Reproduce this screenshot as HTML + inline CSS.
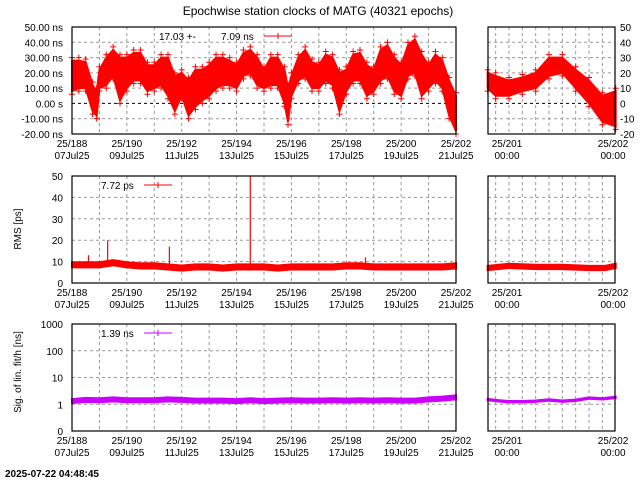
<!DOCTYPE html>
<html><head><meta charset="utf-8"><style>
body{margin:0;background:#fff;}
svg{display:block;font-family:"Liberation Sans",sans-serif;font-size:10px;}
</style></head><body>
<svg id="c" width="640" height="480" viewBox="0 0 640 480">
<text x="318" y="15" text-anchor="middle" font-size="12">Epochwise  station clocks of MATG (40321 epochs)</text>
<text x="5" y="477" font-weight="bold" font-size="10">2025-07-22 04:48:45</text>
<text transform="translate(21,229) rotate(-90)" text-anchor="middle">RMS [ps]</text>
<text transform="translate(21,372) rotate(-90)" text-anchor="middle">Sig. of lin. fit/h [ns]</text>
<text x="159" y="40">17.03 +-</text>
<text x="221" y="40">7.09 ns</text>
<text x="101" y="189">7.72 ps</text>
<text x="101" y="337">1.39 ns</text>
</svg>
<script>
// ---- data ----
const clkDays=[188,188.25,188.5,188.75,188.9,189,189.25,189.5,189.75,190,190.25,190.5,190.75,191,191.25,191.5,191.75,192,192.25,192.5,192.75,193,193.25,193.5,193.75,194,194.25,194.5,194.75,195,195.25,195.5,195.75,195.875,196,196.25,196.5,196.75,197,197.25,197.5,197.75,198,198.25,198.5,198.75,199,199.25,199.5,199.75,200,200.25,200.5,200.75,201,201.25,201.5,201.75,202];
const clkHigh=[28,28,27,12,8,22,30,35,30,30,33,33,25,25,30,30,18,20,15,22,22,25,30,30,28,25,33,35,30,22,30,30,22,10,18,30,35,27,25,32,30,20,22,32,33,25,22,35,38,30,25,38,42,32,25,32,28,15,5];
const clkLow=[8,10,10,-5,-8,10,12,18,2,10,15,15,8,10,12,5,-5,5,-8,-2,2,5,10,12,12,10,18,20,12,10,12,12,0,-12,5,15,18,10,10,15,12,-5,8,15,15,5,8,15,18,8,5,18,20,5,10,15,10,-8,-18];
const zDays=[200.8,200.875,201,201.125,201.25,201.375,201.5,201.625,201.75,201.875,202];
const zHigh=[20,18,15,17,20,30,30,22,15,5,8];
const zLow=[10,5,5,8,10,18,20,10,0,-12,-15];
const rmsDays=[188,188.5,189,189.5,190,190.5,191,191.5,192,192.5,193,193.5,194,194.5,195,195.5,196,196.5,197,197.5,198,198.5,199,199.5,200,200.5,201,201.5,202];
const rmsVals=[8.5,8.5,8.5,9.5,8.5,8,8,7.5,7,7.5,7.5,7,7.5,7.5,7.5,7,7.5,7.5,7.5,7.5,8,8,7.5,7.5,7.5,7.5,7.5,7.5,8];
const rmsSpikeDays=[188.6,189.3,191.55,194.5,198.7];
const rmsSpikeVals=[13,20,17,50,12];
const rzDays=[200.8,201,201.25,201.5,201.75,201.9,202];
const rzVals=[7,8,7.5,7.5,7,7,8];
const sigDays=[188,188.5,189,189.5,190,190.5,191,191.5,192,192.5,193,193.5,194,194.5,195,195.5,196,196.5,197,197.5,198,198.5,199,199.5,200,200.5,201,201.5,202];
const sigVals=[1.3,1.45,1.4,1.5,1.4,1.4,1.4,1.5,1.45,1.35,1.35,1.35,1.3,1.4,1.3,1.35,1.4,1.35,1.35,1.4,1.35,1.4,1.35,1.4,1.35,1.35,1.5,1.6,1.8];
const szDays=[200.8,200.9,201,201.125,201.25,201.375,201.5,201.625,201.75,201.875,202];
const szVals=[1.5,1.35,1.25,1.25,1.3,1.45,1.3,1.4,1.7,1.6,1.8];
const mainTicks=[188,190,192,194,196,198,200,202];
const mainDates=["07Jul25","09Jul25","11Jul25","13Jul25","15Jul25","17Jul25","19Jul25","21Jul25"];
const clkTicks=[50,40,30,20,10,0,-10,-20];
const clkTickLabels=["50.00 ns","40.00 ns","30.00 ns","20.00 ns","10.00 ns","0.00  s","-10.00 ns","-20.00 ns"];
const rmsTicks=[0,10,20,30,40,50];
const sigTicks=[0.1,1,10,100,1000];
const sigTickLabels=["0","1","10","100","1000"];
// ---- scales ----
const S='http://www.w3.org/2000/svg',svg=document.getElementById('c');
const xM=d=>72+(d-188)*384/14, xR=d=>509+(d-201)*106.7;
const yT=v=>27+(50-v)*107/70, yMd=v=>176+(50-v)*107/50;
const yB=v=>431-(Math.log10(v)+1)*26.75;
function el(t,a,p){const e=document.createElementNS(S,t);for(const k in a)e.setAttribute(k,a[k]);(p||svg).appendChild(e);return e;}
function panel(name){
 const g=el('g',{});
 
 
 return g;}
function grid(g,x0,x1,y0,y1,xs,ys){
 xs.forEach(x=>{const l=el('line',{x1:x,x2:x,y1:y0,y2:y1,stroke:'#999','stroke-dasharray':'3,3','stroke-width':1},g);});
 ys.forEach(y=>{const l=el('line',{x1:x0,x2:x1,y1:y,y2:y,stroke:'#999','stroke-dasharray':'3,3','stroke-width':1},g);});}
function frame(g,x0,x1,y0,y1){const r=el('rect',{x:x0,y:y0,width:x1-x0,height:y1-y0,fill:'none',stroke:'#000','stroke-width':1.2},g);}
function txt(g,x,y,s,anc,name){const t=el('text',{x:x,y:y,'text-anchor':anc||'middle'},g);t.textContent=s;return t;}
function band(g,days,hi,lo,xf,yf,col,name,mk){
 let pts=days.map((d,i)=>xf(d)+','+yf(hi[i])).concat(days.map((d,i)=>xf(d)+','+yf(lo[i])).reverse());
 const p=el('polygon',{points:pts.join(' '),fill:col,stroke:col,'stroke-width':2},g);
 
 if(!mk)return;
 days.forEach((d,i)=>{[yf(hi[i])-3,yf(lo[i])+3].forEach(y=>{const x=xf(d);const m=el('path',{d:`M${x-3},${y}h6M${x},${y-3}v6`,stroke:col,'stroke-width':1},g);});});}
function xlabels(g,yb){mainTicks.forEach((d,i)=>{txt(g,xM(d),yb+13,'25/'+d,'middle','x-tick-label');txt(g,xM(d),yb+25,mainDates[i],'middle','x-date-label');});}
function rlabels(g,yb){txt(g,507,yb+13,'25/201','middle','x-tick-label');txt(g,507,yb+25,'00:00','middle','x-time-label');txt(g,613,yb+13,'25/202','middle','x-tick-label');txt(g,613,yb+25,'00:00','middle','x-time-label');}
const dayXs=[];for(let d=189;d<202;d++)dayXs.push(xM(d));
const rXs=[];for(let k=-1;k<=7;k++)rXs.push(xR(201+k*0.125));
// ---- top ----
let g=panel('clock-panel');
grid(g,72,456,27,134,dayXs,clkTicks.filter(v=>v!==0&&v!==50&&v!==-20).map(yT));
el('line',{x1:72,x2:456,y1:yT(0),y2:yT(0),stroke:'#000','stroke-dasharray':'3,3'},g);
band(g,clkDays,clkHigh,clkLow,xM,yT,'#f00','clock-series',true);
frame(g,72,456,27,134);
clkTicks.forEach((v,i)=>txt(g,63,yT(v)+4,clkTickLabels[i],'end','y-tick-label'));
xlabels(g,134);
let lg=el('path',{d:'M264,36h28M278,33v6',stroke:'#f00','stroke-width':1});
g=panel('clock-zoom-panel');
grid(g,488,615,27,134,rXs,clkTicks.filter(v=>v!==0&&v!==50&&v!==-20).map(yT));
el('line',{x1:488,x2:615,y1:yT(0),y2:yT(0),stroke:'#000','stroke-dasharray':'3,3'},g);
band(g,zDays,zHigh,zLow,xR,yT,'#f00','clock-zoom-series',true);
frame(g,488,615,27,134);
clkTicks.forEach(v=>txt(g,620,yT(v)+4,String(v),'start','y-tick-label-right'));
rlabels(g,134);
// ---- middle ----
g=panel('rms-panel');
grid(g,72,456,176,283,dayXs,[10,20,30,40].map(yMd));
band(g,rmsDays,rmsVals.map(v=>v+1.2),rmsVals.map(v=>v-1.2),xM,yMd,'#f00','rms-series',false);
rmsSpikeDays.forEach((d,i)=>{const l=el('line',{x1:xM(d),x2:xM(d),y1:yMd(rmsSpikeVals[i]),y2:yMd(8),stroke:'#f00','stroke-width':1.2},g);});
frame(g,72,456,176,283);
rmsTicks.forEach(v=>txt(g,63,yMd(v)+4,String(v),'end','y-tick-label'));
xlabels(g,283);
lg=el('path',{d:'M144,185h28M158,182v6',stroke:'#f00','stroke-width':1});
g=panel('rms-zoom-panel');
grid(g,488,615,176,283,rXs,[10,20,30,40].map(yMd));
band(g,rzDays,rzVals.map(v=>v+1),rzVals.map(v=>v-1),xR,yMd,'#f00','rms-zoom-series',false);
frame(g,488,615,176,283);
rlabels(g,283);
// ---- bottom ----
g=panel('sig-panel');
grid(g,72,456,324,431,dayXs,[1,10,100].map(yB));
band(g,sigDays,sigVals.map(v=>v*1.2),sigVals.map(v=>v*0.85),xM,yB,'#c0f','sig-series',false);
frame(g,72,456,324,431);
sigTicks.forEach((v,i)=>txt(g,63,yB(v)+4,sigTickLabels[i],'end','y-tick-label'));
xlabels(g,431);
lg=el('path',{d:'M144,333h28M158,330v6',stroke:'#c0f','stroke-width':1});
g=panel('sig-zoom-panel');
grid(g,488,615,324,431,rXs,[1,10,100].map(yB));
band(g,szDays,szVals.map(v=>v*1.06),szVals.map(v=>v*0.94),xR,yB,'#c0f','sig-zoom-series',false);
frame(g,488,615,324,431);
rlabels(g,431);
</script>
</body></html>
